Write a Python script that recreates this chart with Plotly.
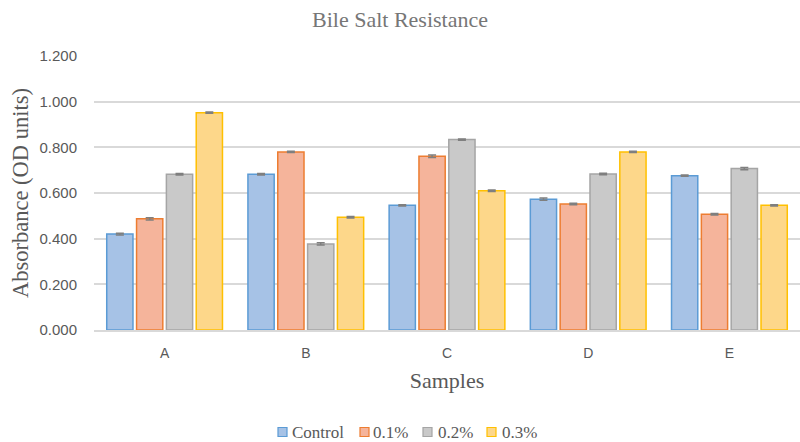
import plotly.graph_objects as go

categories = ["A", "B", "C", "D", "E"]
series_names = ["Control", "0.1%", "0.2%", "0.3%"]
control = [0.420, 0.682, 0.546, 0.573, 0.676]
pct01 = [0.487, 0.780, 0.761, 0.552, 0.507]
pct02 = [0.682, 0.377, 0.834, 0.683, 0.707]
pct03 = [0.952, 0.494, 0.610, 0.780, 0.546]
err_control = [0.004, 0.003, 0.003, 0.005, 0.003]
err_01 = [0.005, 0.003, 0.005, 0.003, 0.003]
err_02 = [0.003, 0.005, 0.003, 0.003, 0.005]
err_03 = [0.003, 0.003, 0.003, 0.003, 0.003]

fills = ["#a6c2e6", "#f5b49b", "#c9c9c9", "#fdd78a"]
borders = ["#5b9bd5", "#ed7d31", "#a5a5a5", "#ffc000"]

# body margin is removed (post_script), so figure pixels == page pixels
W, H = 800, 442
L, R, T, B = 94, 0, 56, 112
PW, PH = W - L - R, H - T - B


def px(xp):
    return (xp - L) / PW


def py(yp):
    return (H - B - yp) / PH


fig = go.Figure()
for name, vals, errs, fc, bc in zip(series_names, [control, pct01, pct02, pct03],
                                     [err_control, err_01, err_02, err_03], fills, borders):
    fig.add_trace(go.Bar(
        x=categories, y=vals, name=name, showlegend=False,
        marker=dict(color=fc, line=dict(color=bc, width=1.5)),
        error_y=dict(type="data", array=errs, color="#7f7f7f", thickness=1.5, width=4),
    ))

# legend (Excel-style: small square immediately followed by text)
leg_sq_left = [278, 360, 423, 487]
leg_txt_left = [290, 371, 436, 500]
leg_y = 432
for name, fc, bc, sx, tx in zip(series_names, fills, borders, leg_sq_left, leg_txt_left):
    fig.add_shape(type="rect", xref="paper", yref="paper",
                  x0=px(sx), x1=px(sx + 9), y0=py(leg_y - 4.5), y1=py(leg_y + 4.5),
                  fillcolor=fc, line=dict(color=bc, width=1.2))
    fig.add_annotation(xref="paper", yref="paper", x=px(tx), y=py(leg_y),
                       xanchor="left", yanchor="middle", showarrow=False, text=name,
                       font=dict(family="Liberation Serif", size=17, color="#595959"))

fig.update_layout(
    width=W, height=H,
    barmode="group", bargap=0.155, bargroupgap=0.12,
    plot_bgcolor="white", paper_bgcolor="white",
    margin=dict(l=L, r=R, t=T, b=B, autoexpand=False),
    title=dict(text="Bile Salt Resistance", xref="container", x=0.5, xanchor="center",
               yref="container", y=1 - 19 / H, yanchor="middle",
               font=dict(family="Liberation Serif", size=22, color="#767676")),
    showlegend=False,
)
fig.update_yaxes(range=[0, 1.2], dtick=0.2, tickformat=".3f",
                 showgrid=True, gridcolor="#d9d9d9", gridwidth=1.5,
                 zeroline=False, showline=False, automargin=False,
                 ticklabelstandoff=16,
                 tickfont=dict(family="Liberation Sans", size=15, color="#595959"),
                 title=dict(text="Absorbance (OD units)", standoff=4,
                            font=dict(family="Liberation Serif", size=22.5, color="#595959")))
fig.update_xaxes(showline=True, linecolor="#d9d9d9", linewidth=1.5, automargin=False,
                 ticklabelstandoff=9,
                 tickfont=dict(family="Liberation Sans", size=14, color="#595959"),
                 title=dict(text="Samples", standoff=13,
                            font=dict(family="Liberation Serif", size=22, color="#595959")))

fig.write_html("out.html", config={"displayModeBar": False},
               post_script="document.body.style.margin='0';document.body.style.padding='0';")
